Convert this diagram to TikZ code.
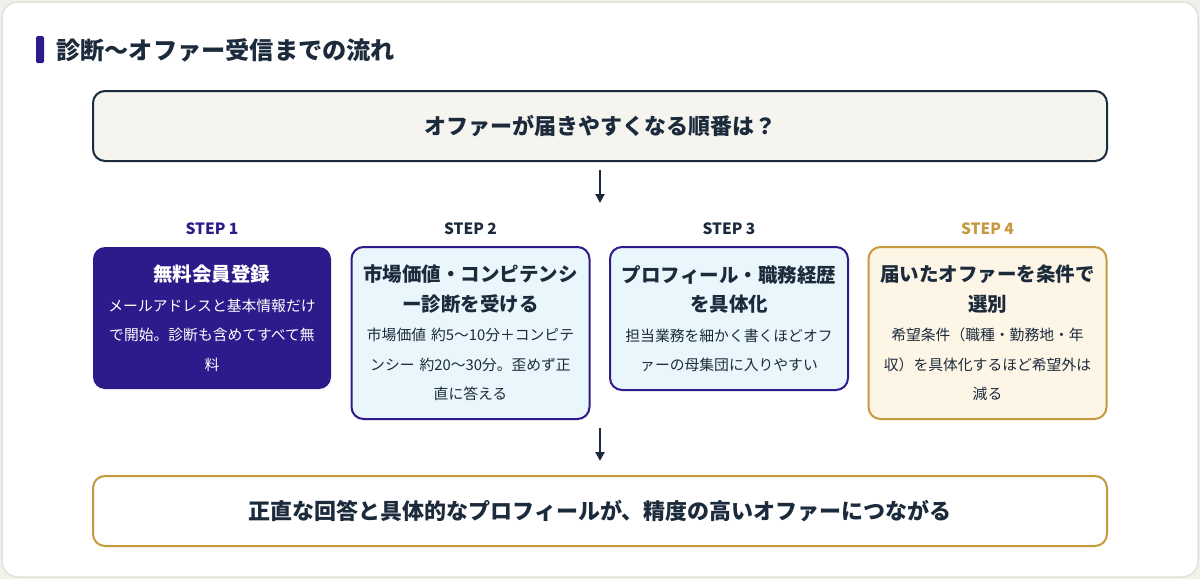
\documentclass[tikz,border=0pt]{standalone}
\usepackage{fontspec}
\setmainfont{Noto Sans CJK JP}
\usetikzlibrary{arrows.meta}
\definecolor{navy}{HTML}{1C2B3C}
\definecolor{purp}{HTML}{2E1A8A}
\definecolor{gold}{HTML}{C8983E}
\definecolor{lblue}{HTML}{E9F6FB}
\definecolor{cream}{HTML}{FDF5E6}
\definecolor{paper}{HTML}{F5F4EF}
\definecolor{edge}{HTML}{E3E1DA}
\definecolor{outer}{HTML}{F1F0EB}
\tikzset{
  banner/.style={draw=#1, line width=2pt, rounded corners=12pt, minimum width=1014pt, minimum height=70pt, inner sep=0pt, text=navy, font=\bfseries\fontsize{22}{26}\selectfont},
  card/.style={rounded corners=12pt, minimum width=238pt, inner sep=0pt, align=center, font=\fontsize{14.8}{29.5}\selectfont, text width=234pt},
  steplbl/.style={font=\bfseries\fontsize{15.5}{17}\selectfont},
  arr/.style={draw=navy, line width=2pt, -{Stealth[length=9pt,width=9pt,inset=0pt]}},
}
\newcommand{\cardtitle}[1]{{\bfseries\fontsize{19.5}{29.5}\selectfont #1}}
\begin{document}
\begin{tikzpicture}[x=1pt,y=-1pt]
\useasboundingbox (0,0) rectangle (1200,579);
\fill[outer] (0,0) rectangle (1200,579);
\draw[edge, fill=white, line width=1.5pt, rounded corners=16pt] (2,2) rectangle (1198,577);
% title
\fill[purp, rounded corners=1.5pt] (36,36) rectangle (44,63);
\node[anchor=west, text=navy, font=\bfseries\fontsize{24.2}{28}\selectfont, inner sep=0pt] (title) at (56,50) {診断〜オファー受信までの流れ};
% top banner
\node[banner=navy, fill=paper] (top) at (600,126) {オファーが届きやすくなる順番は？};
\coordinate (a1s) at (600,170);
\coordinate (a1e) at (600,203);
\draw[arr] (a1s) -- (a1e);
% steps
\node[steplbl, text=purp] (s1) at (212,229) {STEP 1};
\node[steplbl, text=navy] (s2) at (470.5,229) {STEP 2};
\node[steplbl, text=navy] (s3) at (729,229) {STEP 3};
\node[steplbl, text=gold] (s4) at (987.5,229) {STEP 4};
\node[card, fill=purp, text=white, minimum height=142pt] (c1) at (212,318)
  {\cardtitle{無料会員登録}\\ メールアドレスと基本情報だけ\\ で開始。診断も含めてすべて無\\ 料};
\node[card, fill=lblue, draw=purp, line width=2pt, text=navy, minimum height=172pt] (c2) at (470.5,333)
  {\cardtitle{市場価値・コンピテンシ}\\ \cardtitle{ー診断を受ける}\\ 市場価値 約5〜10分＋コンピテ\\ ンシー 約20〜30分。歪めず正\\ 直に答える};
\node[card, fill=lblue, draw=purp, line width=2pt, text=navy, minimum height=143pt] (c3) at (729,318.5)
  {\cardtitle{プロフィール・職務経歴}\\ \cardtitle{を具体化}\\ 担当業務を細かく書くほどオフ\\ ァーの母集団に入りやすい};
\node[card, fill=cream, draw=gold, line width=2pt, text=navy, minimum height=172pt] (c4) at (987.5,333)
  {\cardtitle{届いたオファーを条件で}\\ \cardtitle{選別}\\ 希望条件（職種・勤務地・年\\ 収）を具体化するほど希望外は\\ 減る};
\coordinate (a2s) at (600,428);
\coordinate (a2e) at (600,461);
\draw[arr] (a2s) -- (a2e);
\node[banner=gold, fill=white] (bot) at (600,511) {正直な回答と具体的なプロフィールが、精度の高いオファーにつながる};
\end{tikzpicture}
\end{document}
